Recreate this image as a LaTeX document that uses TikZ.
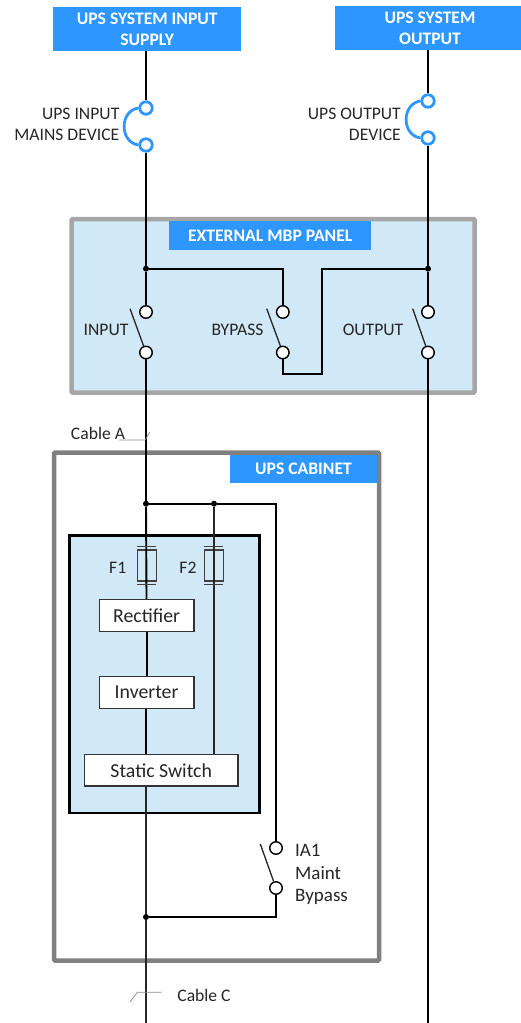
\documentclass[tikz,border=0pt]{standalone}
\usepackage{fontspec}
\setmainfont{Carlito}
\usepackage{tikz}
\usetikzlibrary{positioning, calc}

\definecolor{tagblue}{HTML}{2E96FF}
\definecolor{panelfill}{HTML}{D1E8F6}
\definecolor{cablegray}{HTML}{8C8C8C}

\tikzset{
  txt/.style={font=\fontsize{17.6}{21}\selectfont, text=black!85, inner sep=0pt},
  tag/.style={fill=tagblue, text=white, inner sep=0pt, font=\fontsize{17.6}{21}\selectfont\bfseries, align=center},
  wire/.style={line width=1.9pt, black},
  thinwire/.style={line width=1.2pt, black!85},
  contact/.style={circle, draw=black, line width=1.4pt, fill=white, minimum size=12.5pt, inner sep=0pt},
  device/.style={circle, draw=tagblue, line width=2.8pt, fill=white, minimum size=12.5pt, inner sep=0pt},
  arcline/.style={draw=tagblue, line width=2.8pt},
  joint/.style={circle, fill=black, minimum size=6pt, inner sep=0pt},
  unitbox/.style={draw=black!80, line width=1.2pt, fill=white, inner sep=0pt, font=\fontsize{19.8}{21}\selectfont, text=black!85},
  fuse/.style={draw=black!75, line width=1.3pt, minimum width=19pt, minimum height=31pt, inner sep=0pt},
  blade/.style={line width=1.3pt, black!85},
  cable/.style={line width=0.7pt, cablegray}
}

\begin{document}
\begin{tikzpicture}[x=1pt, y=-1pt]
      \useasboundingbox (0,0) rectangle (521,1023);

      \node[draw=black!35, line width=4.5pt, fill=panelfill, minimum width=403pt, minimum height=173.5pt, rounded corners=1pt] (panel) at (273.2,305.8) {};
      \node[draw=black!50, line width=4.5pt, fill=white, minimum width=325pt, minimum height=508pt, rounded corners=1pt] (cabinet) at (216.5,706.5) {};
      \node[draw=black, line width=2.5pt, fill=panelfill, minimum width=190pt, minimum height=277.5pt] (core) at (164.5,674.2) {};

      \node[tag, minimum width=187.5pt, minimum height=44pt] (supply) at (147.2,29) {UPS SYSTEM INPUT\\SUPPLY};
      \node[tag, minimum width=190pt, minimum height=44pt] (output) at (430,28) {UPS SYSTEM\\OUTPUT};
      \node[tag, minimum width=201.7pt, minimum height=29.3pt] (mbptag) at (270.2,235.4) {EXTERNAL MBP PANEL};
      \node[tag, minimum width=146.4pt, minimum height=28pt] (cabtag) at (303.5,468.7) {UPS CABINET};

      \coordinate (railA) at (146,1023);
      \coordinate (railB) at (428,1023);

      \node[device] (inTop) at (146,108) {};
      \node[device] (inBot) at (146,145) {};
      \node[device] (outTop) at (428,101) {};
      \node[device] (outBot) at (428,138) {};

      \node[joint] (jA) at (146,268.7) {};
      \node[joint] (jB) at (428,268.7) {};
      \node[joint] (jC) at (146,503.7) {};
      \node[joint] (jD) at (214,503.7) {};
      \node[joint] (jE) at (146,917) {};

      \node[contact] (swAtop) at (146,312) {};
      \node[contact] (swAbot) at (146,352.5) {};
      \node[contact] (swBtop) at (282.8,312) {};
      \node[contact] (swBbot) at (282.8,352.5) {};
      \node[contact] (swCtop) at (428,312) {};
      \node[contact] (swCbot) at (428,352.5) {};
      \node[contact] (swDtop) at (276,848) {};
      \node[contact] (swDbot) at (276,888) {};

      \node[fuse] (f1) at (146.8,565.6) {};
      \node[fuse] (f2) at (214.2,565.6) {};

      \node[unitbox, minimum width=94.7pt, minimum height=31.6pt] (rectifier) at (146.6,615.5) {Rectifier};
      \node[unitbox, minimum width=94.7pt, minimum height=31.6pt] (inverter) at (146.6,692.5) {Inverter};
      \node[unitbox, minimum width=153.7pt, minimum height=31.7pt] (static) at (161.2,770.2) {Static Switch};

      \draw[wire] (supply.south-|inTop) -- (inTop);
      \draw[wire] (inBot) -- (jA);
      \draw[wire] (jA) -- (swAtop);
      \draw[wire] (swAbot) -- (jC);
      \draw[wire] (jC) -- (rectifier);
      \draw[wire] (rectifier) -- (inverter);
      \draw[wire] (inverter.south-|inTop) -- (static.north-|inTop);
      \draw[thinwire] (static.south-|inTop) -- (jE);
      \draw[thinwire] (jE) -- (railA);

      \draw[wire] (output.south-|outTop) -- (outTop);
      \draw[wire] (outBot) -- (jB);
      \draw[wire] (jB) -- (swCtop);
      \draw[wire] (swCbot) -- (railB);

      \draw[wire] (jA) -| (swBtop);
      \draw[wire] (swBbot) |- (321.7,373.7) |- (jB);

      \draw[wire] (jC) -- (jD) -| (swDtop);
      \draw[thinwire] (jD) -- (static.north-|jD);
      \draw[wire] (swDbot) |- (jE);

      \draw[arcline] (inTop.west) .. controls +(-19,3) and +(-19,-3) .. (inBot.west);
      \draw[arcline] (outTop.west) .. controls +(-19,3) and +(-19,-3) .. (outBot.west);

      \draw[blade] (130,308.7) -- (swAbot);
      \draw[blade] (266.7,308.7) -- (swBbot);
      \draw[blade] (412.7,308.7) -- (swCbot);
      \draw[blade] (260.3,844) -- (swDbot);

      \draw[fuse] (f1.north west) ++(0,-3) -- ++(19,0);
      \draw[fuse] (f1.south west) ++(0,3) -- ++(19,0);
      \draw[fuse] (f2.north west) ++(0,-3) -- ++(19,0);
      \draw[fuse] (f2.south west) ++(0,3) -- ++(19,0);

      \draw[cable] (119,440) -- (145,440) -- (150,432);
      \draw[cable] (130,1002) -- (137.3,992.3) -- (161.7,992.3);

      \node[txt, align=right, anchor=east] (inlabel) at (119.5,124) {UPS INPUT\\MAINS DEVICE};
      \node[txt, align=right, anchor=east] (outlabel) at (401,124) {UPS OUTPUT\\DEVICE};
      \node[txt] (swAlabel) at (106,329.5) {INPUT};
      \node[txt] (swBlabel) at (237.5,329.5) {BYPASS};
      \node[txt] (swClabel) at (373,329.5) {OUTPUT};
      \node[txt] (cableA) at (98,433) {Cable A};
      \node[txt] (f1label) at (117.7,568) {F1};
      \node[txt] (f2label) at (188,568) {F2};
      \node[txt, font=\fontsize{19}{22.5}\selectfont, align=left, anchor=west] (swDlabel) at (295,874.5) {IA1\\Maint\\Bypass};
      \node[txt] (cableC) at (204,995) {Cable C};
  \end{tikzpicture}
\end{document}
